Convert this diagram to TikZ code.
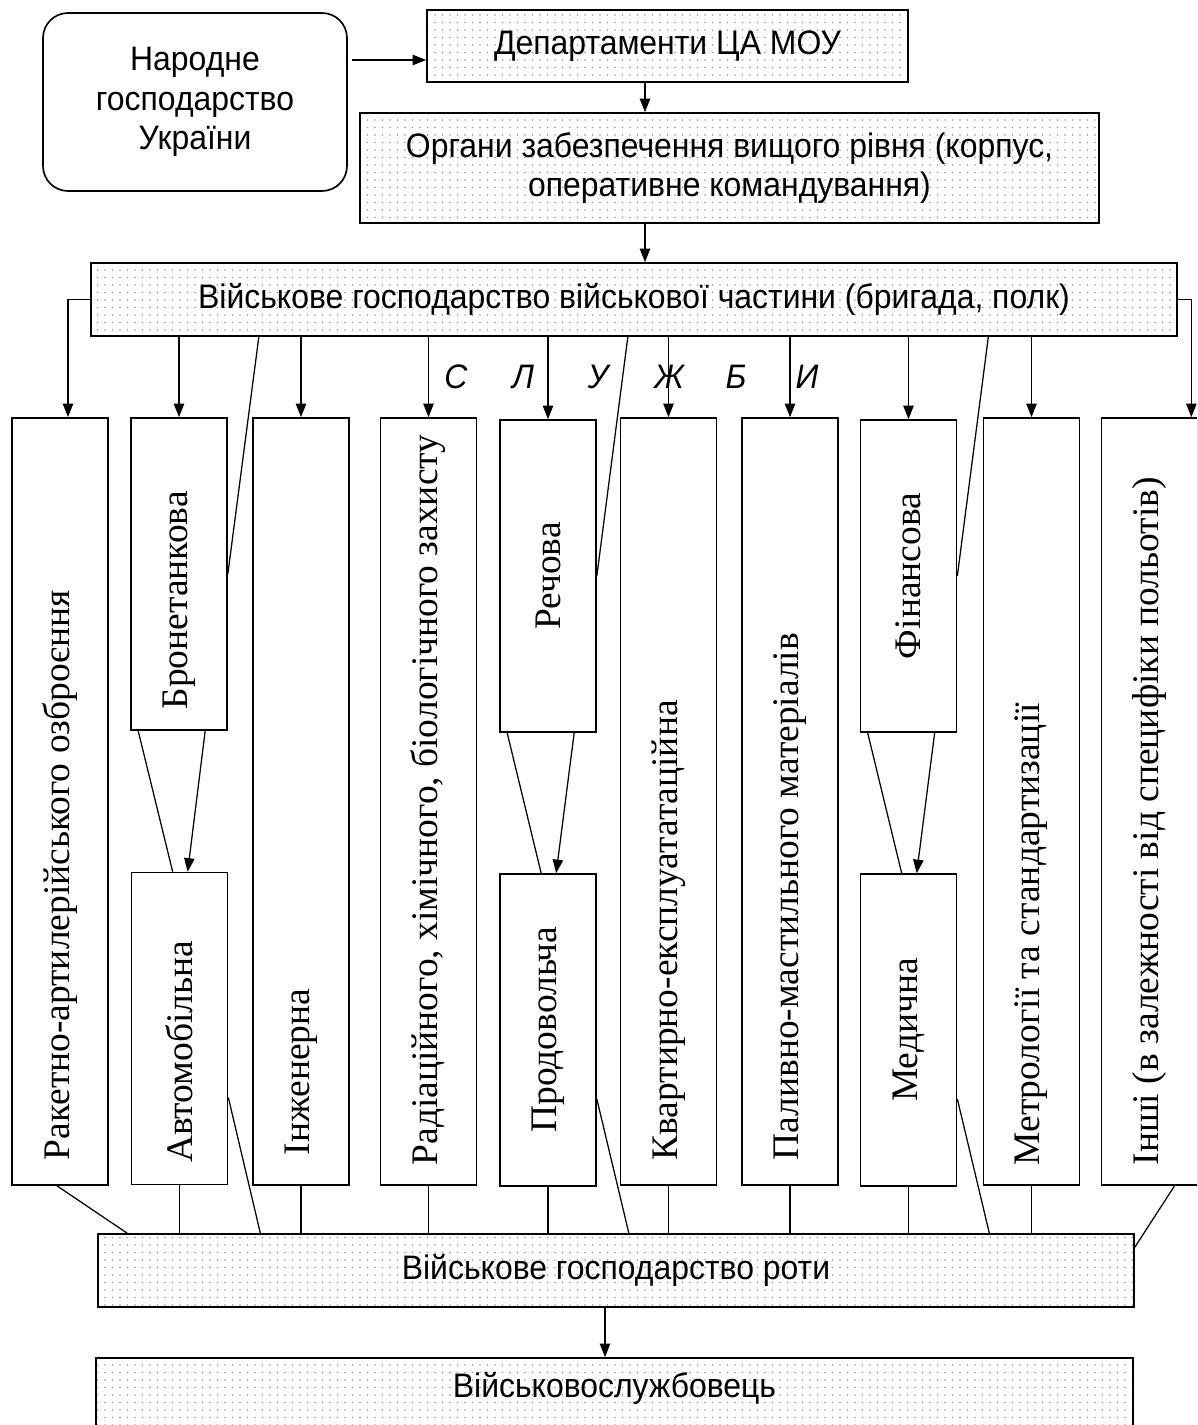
\documentclass[tikz,border=0pt]{standalone}
\usepackage{fontspec}
\setmainfont{Liberation Serif}
\setsansfont[FakeStretch=0.94]{Liberation Sans}
\usetikzlibrary{calc,arrows.meta,patterns.meta}

\tikzset{
  shaded/.style={draw, line width=0.8pt, pattern={Dots[distance=3.6pt,radius=0.4pt]},
    pattern color=gray!80, align=center, inner sep=0pt,
    font=\sffamily\fontsize{16.3}{18.8}\selectfont},
  vbox/.style={draw, line width=0.8pt, minimum width=96*0.48pt, inner sep=0pt},
  tall/.style={minimum height=767*0.48pt},
  half/.style={minimum height=312*0.48pt},
  vtext/.style={rotate=90, inner sep=0pt, font=\fontsize{18}{20}\selectfont},
  slbl/.style={inner sep=0pt, font=\sffamily\itshape\fontsize{16.3}{18}\selectfont},
  arr/.style={line width=0.6pt, -{Triangle[length=6.5pt,width=5pt]}},
  ln/.style={line width=0.6pt}
}

\begin{document}
\begin{tikzpicture}[x=0.48pt,y=-0.48pt]
            % Same Bounding Box
            \useasboundingbox (0,0) rectangle (1197,1425);
            \clip (0,0) rectangle (1197,1425);

            % Upper levels
            \node[draw, line width=0.8pt, rounded corners=12pt, align=center,
                  minimum width=304*0.48pt, minimum height=178*0.48pt,
                  font=\sffamily\fontsize{16.3}{18.8}\selectfont] (nar) at (195,102)
                  {Народне\\господарство\\України};
            \node[shaded, minimum width=481*0.48pt, minimum height=72*0.48pt] (dep) at (667.5,46)
                  {Департаменти ЦА МОУ};
            \node[shaded, minimum width=739*0.48pt, minimum height=110*0.48pt] (org) at (729.5,168)
                  {Органи забезпечення вищого рівня (корпус,\\оперативне командування)};
            \node[shaded, minimum width=1086*0.48pt, minimum height=73*0.48pt] (vch) at (634,299.5)
                  {Військове господарство військової частини (бригада, полк)};

            % Services
            \node[vbox, tall] (rak) at (60,801.5) {};
            \node[vbox, half] (bron) at (179,574) {};
            \node[vbox, half] (avto) at (179.5,1028.5) {};
            \node[vbox, tall] (inzh) at (301,801.5) {};
            \node[vbox, tall] (rad) at (428.5,801.5) {};
            \node[vbox, half] (rech) at (548,576) {};
            \node[vbox, half] (prod) at (548,1030) {};
            \node[vbox, tall] (kv) at (668.5,801.5) {};
            \node[vbox, tall] (pal) at (790,801.5) {};
            \node[vbox, half] (fin) at (908.5,576) {};
            \node[vbox, half] (med) at (908.5,1030) {};
            \node[vbox, tall] (metr) at (1031.5,801.5) {};
            \node[vbox, tall] (insh) at (1149.5,801.5) {};

            \node[vtext, anchor=west] (rak-t) at ($(rak.south)+(0,-25)$) {Ракетно-артилерійського озброєння};
            \node[vtext, anchor=west] (bron-t) at ($(bron.south)+(0,-21)$) {Бронетанкова};
            \node[vtext, anchor=west] (avto-t) at ($(avto.south)+(0,-22)$) {Автомобільна};
            \node[vtext, anchor=west] (inzh-t) at ($(inzh.south)+(0,-30)$) {Інженерна};
            \node[vtext, anchor=west] (rad-t) at ($(rad.south)+(0,-20)$) {Радіаційного, хімічного, біологічного захисту};
            \node[vtext] (rech-t) at (rech) {Речова};
            \node[vtext] (prod-t) at (prod) {Продовольча};
            \node[vtext, anchor=west] (kv-t) at ($(kv.south)+(0,-25)$) {Квартирно-експлуататаційна};
            \node[vtext, anchor=west] (pal-t) at ($(pal.south)+(0,-25)$) {Паливно-мастильного матеріалів};
            \node[vtext] (fin-t) at (fin) {Фінансова};
            \node[vtext] (med-t) at (med) {Медична};
            \node[vtext, anchor=west] (metr-t) at ($(metr.south)+(0,-20)$) {Метрології та стандартизації};
            \node[vtext, anchor=west] (insh-t) at ($(insh.south)+(0,-20)$) {Інші (в залежності від специфіки польотів)};

            \foreach \c/\x [count=\i] in {С/456, Л/523, У/598, Ж/669, Б/736, И/807}
                \node[slbl] (s\i) at (\x,377) {\c};

            % Lower levels
            \node[shaded, minimum width=1036*0.48pt, minimum height=73*0.48pt] (vr) at (616,1270.5)
                  {Військове господарство роти};
            \node[shaded, minimum width=1037*0.48pt, minimum height=140*0.48pt] (vs) at (614.5,1428)
                  {};
            \node[font=\sffamily\fontsize{16.3}{18}\selectfont] (vs-t) at ($(vs.north)+(0,31)$)
                  {Військовослужбовець};

            % Connectors
            \coordinate (ax) at (645,0);
            \coordinate (bx) at (605,0);
            \coordinate (na) at ($(nar.east)+(4,-42)$);
            \coordinate (rakin) at ($(rak.north)+(8,0)$);
            \coordinate (inshin) at ($(insh.north east)+(-7,0)$);

            \draw[arr] (na) -- (na -| dep.west);
            \draw[arr] (dep.south -| ax) -- (org.north -| ax);
            \draw[arr] (org.south -| ax) -- (vch.north -| ax);
            \draw[arr] (vch.west) -| (rakin);
            \draw[arr] (vch.east) -| (inshin);
            \foreach \b in {bron,inzh,rad,rech,kv,pal,fin,metr}
                \draw[arr] (vch.south -| \b.north) -- (\b.north);
            \foreach \b in {bron,rech,fin}
                \draw[ln] ($(vch.south -| \b.east)+(31,0)$) -- (\b.east);
            \foreach \u/\l in {bron/avto,rech/prod,fin/med}{
                \draw[ln] ($(\u.south west)+(8,0)$) -- ($(\l.north west)+(42,0)$);
                \draw[arr] ($(\u.south west)+(75,0)$) -- ($(\l.north west)+(57,0)$);
            }
            \foreach \b in {avto,inzh,rad,prod,kv,pal,med,metr}
                \draw[ln] (\b.south) -- (\b.south |- vr.north);
            \foreach \b in {avto,prod,med}
                \draw[ln] ($(\b.east)+(0,69)$) -- ($(\b.east |- vr.north)+(32,0)$);
            \draw[ln] ($(rak.south)+(-3,0)$) -- ($(vr.north west)+(30,0)$);
            \draw[ln] ($(insh.south)+(25,0)$) -- ($(vr.north east)+(0,14)$);
            \draw[arr] (vr.south -| bx) -- (vs.north -| bx);
\end{tikzpicture}
\end{document}
